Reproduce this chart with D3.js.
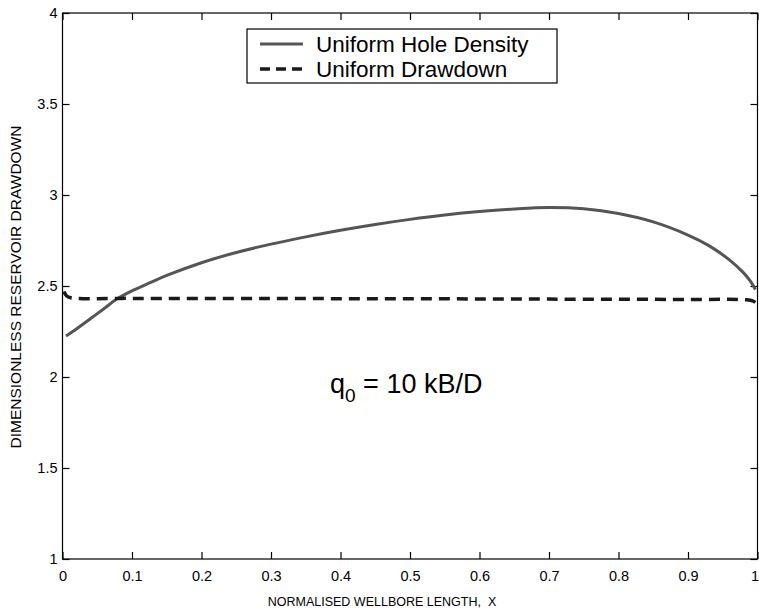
<!DOCTYPE html>
<html>
<head>
<meta charset="utf-8">
<script src="https://cdn.jsdelivr.net/npm/d3@7"></script>
<style>
  html, body { margin: 0; padding: 0; background: #fff; }
  svg { display: block; font-family: "Liberation Sans", Arial, Helvetica, sans-serif; }
</style>
</head>
<body>
<svg id="chart" width="759" height="612"></svg>
<script>
// Uniform hole density profile
const holeX = [0.005, 0.020, 0.040, 0.060, 0.078, 0.100, 0.126, 0.150, 0.200, 0.250, 0.300, 0.350, 0.400, 0.450, 0.500, 0.550, 0.600, 0.650, 0.700, 0.750, 0.800, 0.850, 0.900, 0.930, 0.960, 0.980, 0.990, 0.997];
const holeY = [2.225, 2.264, 2.320, 2.376, 2.428, 2.473, 2.518, 2.558, 2.628, 2.684, 2.730, 2.770, 2.806, 2.838, 2.866, 2.890, 2.909, 2.923, 2.931, 2.924, 2.898, 2.852, 2.780, 2.722, 2.642, 2.572, 2.525, 2.480];

// Uniform drawdown profile
const drawX = [0.002, 0.006, 0.012, 0.100, 0.300, 0.500, 0.700, 0.900, 0.985, 0.993, 0.997];
const drawY = [2.470, 2.445, 2.435, 2.432, 2.431, 2.430, 2.428, 2.426, 2.424, 2.418, 2.410];

const xTicks = [0, 0.1, 0.2, 0.3, 0.4, 0.5, 0.6, 0.7, 0.8, 0.9, 1];
const yTicks = [1, 1.5, 2, 2.5, 3, 3.5, 4];
const xTickLabels = ["0", "0.1", "0.2", "0.3", "0.4", "0.5", "0.6", "0.7", "0.8", "0.9", "1"];
const yTickLabels = ["1", "1.5", "2", "2.5", "3", "3.5", "4"];

const seriesNames = ["Uniform Hole Density", "Uniform Drawdown"];

const svg = d3.select("#chart");
const m = { left: 62.5, top: 13, right: 757.5, bottom: 559 };

const x = d3.scaleLinear().domain([0, 1]).range([m.left, m.right]);
const y = d3.scaleLinear().domain([1, 4]).range([m.bottom, m.top]);

const tickLen = 7;

// Box frame
svg.append("rect")
  .attr("x", m.left).attr("y", m.top)
  .attr("width", m.right - m.left).attr("height", m.bottom - m.top)
  .attr("fill", "none").attr("stroke", "#000").attr("stroke-width", 1.2);

// Axes with inward ticks on all four sides
const bottomAxis = d3.axisBottom(x).tickValues(xTicks)
  .tickFormat((d, i) => xTickLabels[i]).tickSizeInner(-tickLen).tickSizeOuter(0).tickPadding(12);
const leftAxis = d3.axisLeft(y).tickValues(yTicks)
  .tickFormat((d, i) => yTickLabels[i]).tickSizeInner(-tickLen).tickSizeOuter(0).tickPadding(12);
const topAxis = d3.axisTop(x).tickValues(xTicks).tickFormat("").tickSizeInner(-tickLen).tickSizeOuter(0);
const rightAxis = d3.axisRight(y).tickValues(yTicks).tickFormat("").tickSizeInner(-tickLen).tickSizeOuter(0);

function styleAxis(g) {
  g.select(".domain").remove();
  g.selectAll(".tick line").attr("stroke", "#000").attr("stroke-width", 1.2);
  g.selectAll(".tick text").attr("fill", "#000").attr("font-size", 14.5)
    .attr("font-family", "\"Liberation Sans\", Arial, sans-serif");
}

const gBottom = svg.append("g").attr("transform", `translate(0,${m.bottom})`).call(bottomAxis).call(styleAxis);
// keep the last label inside the frame edge
gBottom.selectAll(".tick text").filter((d, i) => i === xTicks.length - 1).attr("dx", -3);
svg.append("g").attr("transform", `translate(${m.left},0)`).call(leftAxis).call(styleAxis)
  .selectAll(".tick text").attr("dx", 7);
svg.append("g").attr("transform", `translate(0,${m.top})`).call(topAxis).call(styleAxis);
svg.append("g").attr("transform", `translate(${m.right},0)`).call(rightAxis).call(styleAxis);

// Axis titles
svg.append("text")
  .attr("x", (m.left + m.right) / 2 - 28).attr("y", 606)
  .attr("text-anchor", "middle").attr("font-size", 12.5).attr("fill", "#000")
  .attr("xml:space", "preserve")
  .text("NORMALISED WELLBORE LENGTH,  X");

svg.append("text")
  .attr("transform", `translate(21,${(m.top + m.bottom) / 2 + 1}) rotate(-90)`)
  .attr("text-anchor", "middle").attr("font-size", 15.5).attr("fill", "#000")
  .text("DIMENSIONLESS RESERVOIR DRAWDOWN");

// Curves
const line = d3.line().x(d => x(d[0])).y(d => y(d[1])).curve(d3.curveCatmullRom.alpha(0.5));

svg.append("path")
  .datum(holeX.map((v, i) => [v, holeY[i]]))
  .attr("d", line)
  .attr("fill", "none").attr("stroke", "#555").attr("stroke-width", 3);

svg.append("path")
  .datum(drawX.map((v, i) => [v, drawY[i]]))
  .attr("d", line)
  .attr("fill", "none").attr("stroke", "#1a1a1a").attr("stroke-width", 3.5)
  .attr("stroke-dasharray", "11,7");

// Legend
const lg = svg.append("g");
lg.append("rect")
  .attr("x", 247).attr("y", 29).attr("width", 310).attr("height", 54)
  .attr("fill", "#fff").attr("stroke", "#000").attr("stroke-width", 1.2);

const legendRows = [
  { name: seriesNames[0], color: "#555", width: 3, dash: null, y: 44 },
  { name: seriesNames[1], color: "#1a1a1a", width: 3.5, dash: "10,6", y: 69 }
];
legendRows.forEach(r => {
  lg.append("line")
    .attr("x1", 260).attr("x2", 303).attr("y1", r.y).attr("y2", r.y)
    .attr("stroke", r.color).attr("stroke-width", r.width)
    .attr("stroke-dasharray", r.dash);
  lg.append("text")
    .attr("x", 316).attr("y", r.y + 8)
    .attr("font-size", 22.5).attr("fill", "#000")
    .text(r.name);
});

// Flow-rate annotation
const ann = svg.append("text")
  .attr("x", 330).attr("y", 393)
  .attr("font-size", 27).attr("fill", "#000");
ann.append("tspan").text("q");
ann.append("tspan").attr("font-size", 19).attr("dy", 9).text("0");
ann.append("tspan").attr("dy", -9).text(" = 10 kB/D");
</script>
</body>
</html>
